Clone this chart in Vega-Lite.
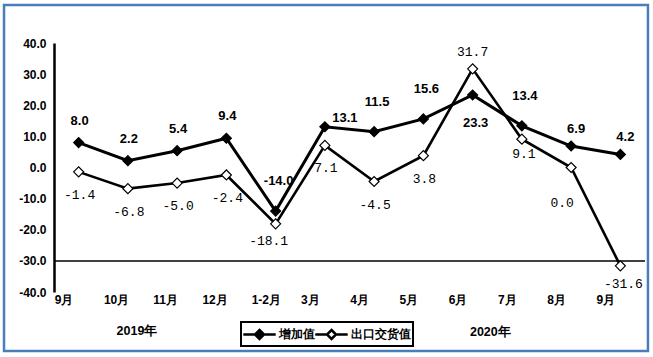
{
  "$schema": "https://vega.github.io/schema/vega-lite/v6.json",
  "width": 591,
  "height": 249,
  "autosize": {"type": "none"},
  "padding": {"left": 54, "top": 43, "right": 8, "bottom": 65},
  "background": "white",
  "config": {"view": {"stroke": null}, "legend": {"strokeWidth": 2}},
  "data": {
    "values": [
      {"i": 0, "month": "9月", "增加值": 8.0, "出口交货值": -1.4},
      {"i": 1, "month": "10月", "增加值": 2.2, "出口交货值": -6.8},
      {"i": 2, "month": "11月", "增加值": 5.4, "出口交货值": -5.0},
      {"i": 3, "month": "12月", "增加值": 9.4, "出口交货值": -2.4},
      {"i": 4, "month": "1-2月", "增加值": -14.0, "出口交货值": -18.1},
      {"i": 5, "month": "3月", "增加值": 13.1, "出口交货值": 7.1},
      {"i": 6, "month": "4月", "增加值": 11.5, "出口交货值": -4.5},
      {"i": 7, "month": "5月", "增加值": 15.6, "出口交货值": 3.8},
      {"i": 8, "month": "6月", "增加值": 23.3, "出口交货值": 31.7},
      {"i": 9, "month": "7月", "增加值": 13.4, "出口交货值": 9.1},
      {"i": 10, "month": "8月", "增加值": 6.9, "出口交货值": 0.0},
      {"i": 11, "month": "9月", "增加值": 4.2, "出口交货值": -31.6}
    ]
  },
  "transform": [
    {"fold": ["增加值", "出口交货值"], "as": ["series", "value"]},
    {"calculate": "replace(format(datum.value, '.1f'), '\u2212', '-')", "as": "lbl"}
  ],
  "layer": [
    {
      "mark": {"type": "line", "stroke": "black", "strokeWidth": 2.6},
      "transform": [{"filter": {"field": "series", "equal": "出口交货值"}}],
      "encoding": {
        "x": {
          "field": "i", "type": "quantitative",
          "scale": {"domain": [-0.5, 11.5], "nice": false, "zero": false},
          "axis": {
            "values": [0, 1, 2, 3, 4, 5, 6, 7, 8, 9, 10, 11],
            "tickCount": 20,
            "labelExpr": "['9月','10月','11月','12月','1-2月','3月','4月','5月','6月','7月','8月','9月'][datum.value]",
            "domain": false, "ticks": false, "grid": false, "title": null,
            "labelFont": "Liberation Sans", "labelFontWeight": "bold", "labelFontSize": 12,
            "labelColor": "black", "labelAlign": "left", "labelOffset": -24.5, "labelPadding": 2,
            "labelFlush": false, "labelOverlap": false, "labelBound": false
          }
        },
        "y": {
          "field": "value", "type": "quantitative",
          "scale": {"domain": [-40, 40], "nice": false, "zero": false},
          "axis": {
            "values": [-40, -30, -20, -10, 0, 10, 20, 30, 40],
            "tickCount": 20,
            "labelExpr": "replace(format(datum.value, '.1f'), '\u2212', '-')",
            "domain": true, "domainColor": "black", "domainWidth": 2.5,
            "ticks": false, "grid": false, "title": null,
            "labelFont": "Liberation Sans", "labelFontWeight": "bold", "labelFontSize": 12,
            "labelColor": "black", "labelPadding": 8,
            "labelOverlap": false, "labelFlush": false, "labelBound": false
          }
        }
      }
    },
    {
      "data": {"values": [{}]},
      "mark": {"type": "rect", "fill": null, "stroke": "#4A7EBB", "strokeWidth": 2.5},
      "encoding": {
        "x": {"datum": -1.515},
        "x2": {"datum": 11.56},
        "y": {"datum": 52.2},
        "y2": {"datum": -58.96}
      }
    },
    {
      "data": {"values": [{}]},
      "mark": {"type": "rule", "stroke": "black", "strokeWidth": 1.5},
      "encoding": {"y": {"datum": -30}}
    },
    {
      "mark": {"type": "line", "stroke": "black", "strokeWidth": 3},
      "transform": [{"filter": {"field": "series", "equal": "增加值"}}],
      "encoding": {
        "x": {"field": "i", "type": "quantitative"},
        "y": {"field": "value", "type": "quantitative"}
      }
    },
    {
      "mark": {"type": "point", "shape": "diamond", "size": 100, "stroke": "black", "strokeWidth": 1.2, "opacity": 1, "fillOpacity": 1},
      "encoding": {
        "x": {"field": "i", "type": "quantitative"},
        "y": {"field": "value", "type": "quantitative"},
        "fill": {
          "field": "series", "type": "nominal",
          "scale": {"domain": ["增加值", "出口交货值"], "range": ["black", "white"]},
          "legend": {
            "orient": "none", "legendX": 187, "legendY": 279,
            "direction": "horizontal", "title": null,
            "symbolType": "M-1.8,0H-0.5M0.5,0H1.8M0,-0.5L0.5,0L0,0.5L-0.5,0Z",
            "symbolSize": 324, "symbolStrokeColor": "black", "symbolStrokeWidth": 2.5,
            "symbolOpacity": 1, "symbolOffset": 6,
            "labelFont": "Liberation Sans", "labelFontWeight": "bold", "labelFontSize": 11.5,
            "labelColor": "black", "labelOffset": 9, "columnPadding": -6,
            "strokeColor": "black", "padding": 2
          }
        }
      }
    },
    {
      "mark": {"type": "text", "font": "Liberation Sans", "fontWeight": "bold", "fontSize": 13, "baseline": "middle", "dy": -22, "dx": 1},
      "transform": [{"filter": {"and": [{"field": "series", "equal": "增加值"}, {"field": "i", "oneOf": [0, 1, 2, 3]}]}}],
      "encoding": {"x": {"field": "i", "type": "quantitative"}, "y": {"field": "value", "type": "quantitative"}, "text": {"field": "lbl"}}
    },
    {
      "mark": {"type": "text", "font": "Liberation Sans", "fontWeight": "bold", "fontSize": 13, "baseline": "middle", "dy": -30, "dx": 3},
      "transform": [{"filter": {"and": [{"field": "series", "equal": "增加值"}, {"field": "i", "oneOf": [4, 6, 7, 9]}]}}],
      "encoding": {"x": {"field": "i", "type": "quantitative"}, "y": {"field": "value", "type": "quantitative"}, "text": {"field": "lbl"}}
    },
    {
      "mark": {"type": "text", "font": "Liberation Sans", "fontWeight": "bold", "fontSize": 13, "baseline": "middle", "dy": -9, "dx": 20},
      "transform": [{"filter": {"and": [{"field": "series", "equal": "增加值"}, {"field": "i", "oneOf": [5]}]}}],
      "encoding": {"x": {"field": "i", "type": "quantitative"}, "y": {"field": "value", "type": "quantitative"}, "text": {"field": "lbl"}}
    },
    {
      "mark": {"type": "text", "font": "Liberation Sans", "fontWeight": "bold", "fontSize": 13, "baseline": "middle", "dy": 28, "dx": 3},
      "transform": [{"filter": {"and": [{"field": "series", "equal": "增加值"}, {"field": "i", "oneOf": [8]}]}}],
      "encoding": {"x": {"field": "i", "type": "quantitative"}, "y": {"field": "value", "type": "quantitative"}, "text": {"field": "lbl"}}
    },
    {
      "mark": {"type": "text", "font": "Liberation Sans", "fontWeight": "bold", "fontSize": 13, "baseline": "middle", "dy": -17, "dx": 5},
      "transform": [{"filter": {"and": [{"field": "series", "equal": "增加值"}, {"field": "i", "oneOf": [10, 11]}]}}],
      "encoding": {"x": {"field": "i", "type": "quantitative"}, "y": {"field": "value", "type": "quantitative"}, "text": {"field": "lbl"}}
    },
    {
      "mark": {"type": "text", "font": "Liberation Mono", "fontSize": 13, "baseline": "middle", "dy": 23, "dx": 1},
      "transform": [{"filter": {"and": [{"field": "series", "equal": "出口交货值"}, {"field": "i", "oneOf": [0, 1, 2, 3, 5, 6, 7]}]}}],
      "encoding": {"x": {"field": "i", "type": "quantitative"}, "y": {"field": "value", "type": "quantitative"}, "text": {"field": "lbl"}}
    },
    {
      "mark": {"type": "text", "font": "Liberation Mono", "fontSize": 13, "baseline": "middle", "dy": 17, "dx": -7},
      "transform": [{"filter": {"and": [{"field": "series", "equal": "出口交货值"}, {"field": "i", "oneOf": [4]}]}}],
      "encoding": {"x": {"field": "i", "type": "quantitative"}, "y": {"field": "value", "type": "quantitative"}, "text": {"field": "lbl"}}
    },
    {
      "mark": {"type": "text", "font": "Liberation Mono", "fontSize": 13, "baseline": "middle", "dy": -17, "dx": 0},
      "transform": [{"filter": {"and": [{"field": "series", "equal": "出口交货值"}, {"field": "i", "oneOf": [8]}]}}],
      "encoding": {"x": {"field": "i", "type": "quantitative"}, "y": {"field": "value", "type": "quantitative"}, "text": {"field": "lbl"}}
    },
    {
      "mark": {"type": "text", "font": "Liberation Mono", "fontSize": 13, "baseline": "middle", "dy": 15, "dx": 2},
      "transform": [{"filter": {"and": [{"field": "series", "equal": "出口交货值"}, {"field": "i", "oneOf": [9]}]}}],
      "encoding": {"x": {"field": "i", "type": "quantitative"}, "y": {"field": "value", "type": "quantitative"}, "text": {"field": "lbl"}}
    },
    {
      "mark": {"type": "text", "font": "Liberation Mono", "fontSize": 13, "baseline": "middle", "dy": 35, "dx": -9},
      "transform": [{"filter": {"and": [{"field": "series", "equal": "出口交货值"}, {"field": "i", "oneOf": [10]}]}}],
      "encoding": {"x": {"field": "i", "type": "quantitative"}, "y": {"field": "value", "type": "quantitative"}, "text": {"field": "lbl"}}
    },
    {
      "mark": {"type": "text", "font": "Liberation Mono", "fontSize": 13, "baseline": "middle", "dy": 18, "dx": 3},
      "transform": [{"filter": {"and": [{"field": "series", "equal": "出口交货值"}, {"field": "i", "oneOf": [11]}]}}],
      "encoding": {"x": {"field": "i", "type": "quantitative"}, "y": {"field": "value", "type": "quantitative"}, "text": {"field": "lbl"}}
    },
    {
      "data": {"values": [{"label": "2019年"}]},
      "mark": {"type": "text", "font": "Liberation Sans", "fontWeight": "bold", "fontSize": 12.5, "baseline": "middle"},
      "encoding": {"x": {"datum": 1.185}, "y": {"datum": -52.5}, "text": {"field": "label"}}
    },
    {
      "data": {"values": [{"label": "2020年"}]},
      "mark": {"type": "text", "font": "Liberation Sans", "fontWeight": "bold", "fontSize": 12.5, "baseline": "middle"},
      "encoding": {"x": {"datum": 8.36}, "y": {"datum": -53}, "text": {"field": "label"}}
    }
  ]
}
